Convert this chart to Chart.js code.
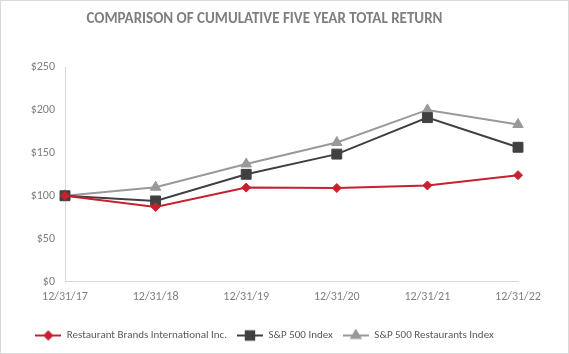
<!DOCTYPE html>
<html>
<head>
<meta charset="utf-8">
<script src="https://cdn.jsdelivr.net/npm/chart.js@4/dist/chart.umd.min.js"></script>
<style>
  html, body { margin: 0; padding: 0; background: #fff; }
  .frame { width: 569px; height: 354px; box-sizing: border-box; border: 1px solid #d9d9d9; }
  .chart-box { position: relative; width: 567px; height: 352px; }
</style>
</head>
<body>
<div class="frame"><div class="chart-box"><canvas id="chart"></canvas></div></div>
<script>
const title_text = 'COMPARISON OF CUMULATIVE FIVE YEAR TOTAL RETURN'
const dates = ['12/31/17', '12/31/18', '12/31/19', '12/31/20', '12/31/21', '12/31/22']

const rbi_values = [100, 87, 109.5, 109, 112, 124]
const sp500_values = [100, 94, 125, 148.5, 191, 156.5]
const sp_restaurants_values = [100, 110, 137, 162, 200, 183]

const series_names = ['Restaurant Brands International Inc.', 'S&P 500 Index', 'S&P 500 Restaurants Index']

const y_ticks = [0, 50, 100, 150, 200, 250]

const text_gray = '#7f7f7f'
const axis_gray = '#d9d9d9'
const font_family = 'Carlito, Lato, "Open Sans", sans-serif'

const colors = ['#c8202f', '#404040', '#999999']
const marker_styles = ['rectRot', 'rect', 'triangle']
const marker_sizes = [4.5, 7, 6]

// small canvas with a line and the marker, used as legend symbol
function legend_icon(color, style, size) {
    const c = document.createElement('canvas')
    c.width = 26
    c.height = 14
    const g = c.getContext('2d')
    g.strokeStyle = color
    g.lineWidth = 2
    g.beginPath()
    g.moveTo(0, 7)
    g.lineTo(26, 7)
    g.stroke()
    g.fillStyle = color
    g.strokeStyle = color
    Chart.helpers.drawPoint(g, {pointStyle: style, radius: size * 0.85, borderWidth: 1, rotation: 0}, 13, 7)
    return c
}

function make_dataset(i, values) {
    return {
        label: series_names[i],
        data: values,
        borderColor: colors[i],
        backgroundColor: colors[i],
        pointBackgroundColor: colors[i],
        pointBorderColor: colors[i],
        pointStyle: marker_styles[i],
        pointRadius: marker_sizes[i],
        pointHoverRadius: marker_sizes[i],
        pointBorderWidth: 1,
        borderWidth: 2,
        tension: 0
    }
}

const data = {
    labels: dates,
    datasets: [
        make_dataset(0, rbi_values),
        make_dataset(1, sp500_values),
        make_dataset(2, sp_restaurants_values)
    ]
}

const config = {
    type: 'line',
    data: data,
    options: {
        responsive: true,
        maintainAspectRatio: false,
        animation: false,
        layout: {
            padding: {left: 10, right: 50, top: 0, bottom: 2}
        },
        plugins: {
            title: {
                display: true,
                text: title_text,
                color: text_gray,
                font: {family: font_family, size: 15, weight: 'bold'},
                padding: {top: 9, bottom: 39}
            },
            legend: {
                position: 'bottom',
                labels: {
                    usePointStyle: true,
                    pointStyleWidth: 26,
                    boxHeight: 11,
                    padding: 10,
                    color: '#595959',
                    font: {family: font_family, size: 11},
                    generateLabels: chart => chart.data.datasets.map((ds, i) => ({
                        text: ds.label,
                        fillStyle: colors[i],
                        strokeStyle: colors[i],
                        pointStyle: legend_icon(colors[i], marker_styles[i], marker_sizes[i]),
                        fontColor: '#595959',
                        lineWidth: 0,
                        hidden: false,
                        datasetIndex: i
                    }))
                }
            },
            tooltip: {enabled: false}
        },
        scales: {
            x: {
                offset: false,
                grid: {display: false, drawTicks: false},
                border: {display: true, color: axis_gray, width: 1},
                ticks: {
                    color: text_gray,
                    font: {family: font_family, size: 12},
                    padding: 8,
                    maxRotation: 0,
                    autoSkip: false
                },
                afterFit: scale => { scale.height += 8 }
            },
            y: {
                min: 0,
                max: 250,
                grid: {display: false, drawTicks: false},
                border: {display: true, color: axis_gray, width: 1},
                afterBuildTicks: scale => { scale.ticks = y_ticks.map(v => ({value: v})) },
                ticks: {
                    color: text_gray,
                    font: {family: font_family, size: 12},
                    padding: 10,
                    callback: v => '$' + v
                },
                afterFit: scale => { scale.width = 54 }
            }
        }
    }
}

new Chart(document.getElementById('chart'), config)
</script>
</body>
</html>
